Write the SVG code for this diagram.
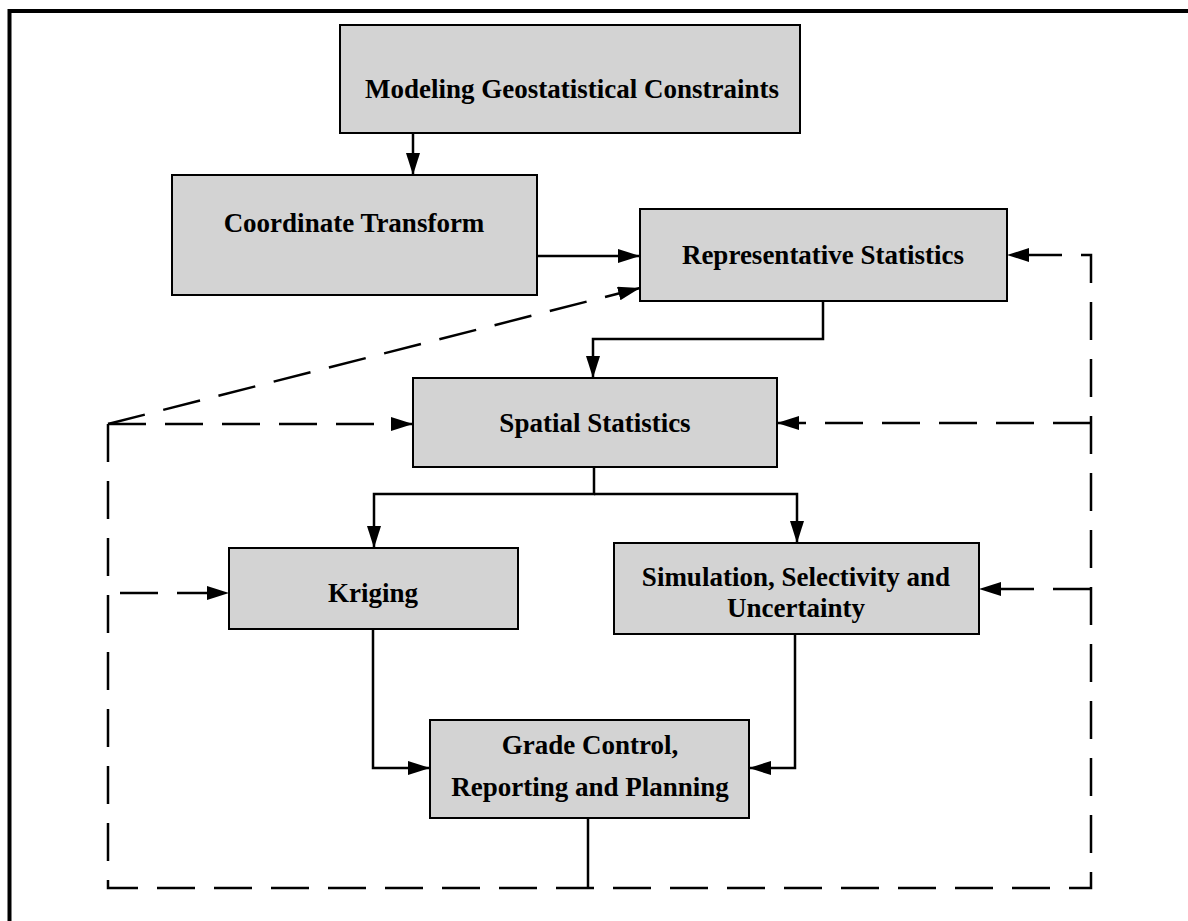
<svg xmlns="http://www.w3.org/2000/svg" width="1188" height="921" viewBox="0 0 1188 921">
<defs>
<marker id="ah" markerUnits="userSpaceOnUse" markerWidth="22" markerHeight="14" refX="22" refY="7" orient="auto"><path d="M0,0 L22,7 L0,14 z" fill="#000"/></marker>
</defs>
<style>
.box{fill:#d3d3d3;stroke:#000;stroke-width:2}
.t{font-family:"Liberation Serif","Times New Roman",serif;font-weight:bold;font-size:27px;fill:#000;text-anchor:middle}
.c{fill:none;stroke:#000;stroke-width:2.5}
.d{fill:none;stroke:#000;stroke-width:2.5;stroke-dasharray:38 19}
</style>
<rect width="1188" height="921" fill="#fff"/>
<g id="frame"><path d="M9.5,921 V11 H1188" fill="none" stroke="#000" stroke-width="4"/></g>
<g id="n1"><rect class="box" x="340" y="25" width="460" height="108"/><text class="t" x="572" y="98">Modeling Geostatistical Constraints</text></g>
<g id="n2"><rect class="box" x="172" y="175" width="365" height="120"/><text class="t" x="354" y="232">Coordinate Transform</text></g>
<g id="n3"><rect class="box" x="640" y="209" width="367" height="92"/><text class="t" x="823" y="264">Representative Statistics</text></g>
<g id="n4"><rect class="box" x="413" y="378" width="364" height="89"/><text class="t" x="595" y="432">Spatial Statistics</text></g>
<g id="n5"><rect class="box" x="229" y="548" width="289" height="81"/><text class="t" x="373" y="602">Kriging</text></g>
<g id="n6"><rect class="box" x="614" y="543" width="365" height="91"/><text class="t" x="796" y="586">Simulation, Selectivity and</text><text class="t" x="796" y="617">Uncertainty</text></g>
<g id="n7"><rect class="box" x="430" y="720" width="319" height="98"/><text class="t" x="590" y="754">Grade Control,</text><text class="t" x="590" y="796">Reporting and Planning</text></g>
<g id="connectors">
<path class="c" d="M413,133 V175" marker-end="url(#ah)"/>
<path class="c" d="M537,256 H640" marker-end="url(#ah)"/>
<path class="c" d="M823,301 V339 H593 V378" marker-end="url(#ah)"/>
<path class="c" d="M594,467 V494 H374 V548" marker-end="url(#ah)"/>
<path class="c" d="M594,494 H797 V543" marker-end="url(#ah)"/>
<path class="c" d="M373,629 V768 H430" marker-end="url(#ah)"/>
<path class="c" d="M795,634 V768 H749" marker-end="url(#ah)"/>
<path class="c" d="M588,818 V888"/>
<path class="d" d="M108,424 L640,288" marker-end="url(#ah)"/>
<path class="d" d="M108,424 H413" marker-end="url(#ah)"/>
<path class="d" d="M108,424 V888 H1091 V255 H1007" marker-end="url(#ah)"/>
<path class="d" d="M120,593 H229" marker-end="url(#ah)"/>
<path class="d" d="M1091,423 H777" marker-end="url(#ah)"/>
<path class="d" d="M1091,589 H979" marker-end="url(#ah)"/>
</g>
</svg>
